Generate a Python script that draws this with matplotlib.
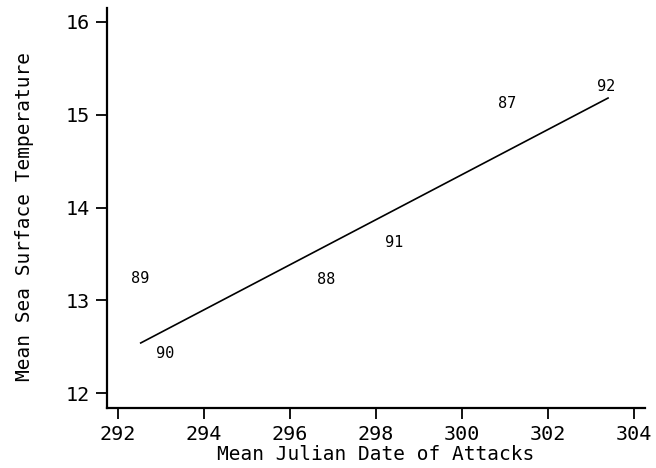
import matplotlib
matplotlib.use("Agg")
import matplotlib.pyplot as plt

# year labels plotted at (mean julian date, mean SST)
years = ["89", "90", "88", "91", "87", "92"]
julian_date = [292.51, 293.09, 296.84, 298.43, 301.05, 303.35]
sea_temp = [13.23, 12.43, 13.22, 13.62, 15.12, 15.30]

# regression line end points
fit_x = [292.53, 303.40]
fit_y = [12.54, 15.18]

x_ticks = [292, 294, 296, 298, 300, 302, 304]
y_ticks = [12, 13, 14, 15, 16]

plt.rcParams['font.family'] = ['DejaVu Sans Mono', 'DejaVu Sans']

fig = plt.figure(figsize=(6.56, 4.68), dpi=100)
ax = fig.add_axes([0.163, 0.128, 0.820, 0.855])

for lab, x, y in zip(years, julian_date, sea_temp):
    ax.text(x, y, lab, fontsize=11, ha='center', va='center')

ax.plot(fit_x, fit_y, color='black', linewidth=1.2)

ax.set_xlim(291.744, 304.256)
ax.set_ylim(11.838, 16.151)
ax.set_xticks(x_ticks)
ax.set_yticks(y_ticks)

for s in ['top', 'right']:
    ax.spines[s].set_visible(False)
for s in ['left', 'bottom']:
    ax.spines[s].set_linewidth(1.6)

ax.tick_params(direction='out', length=8, width=1.3, labelsize=14.5)
ax.tick_params(axis='x', pad=4)
ax.tick_params(axis='y', pad=4)
ax.set_xlabel("Mean Julian Date of Attacks", fontsize=14, labelpad=1)
ax.set_ylabel("Mean Sea Surface Temperature", fontsize=14)
ax.yaxis.set_label_coords(-0.136, 0.48)

plt.savefig('out.png', dpi=100)
